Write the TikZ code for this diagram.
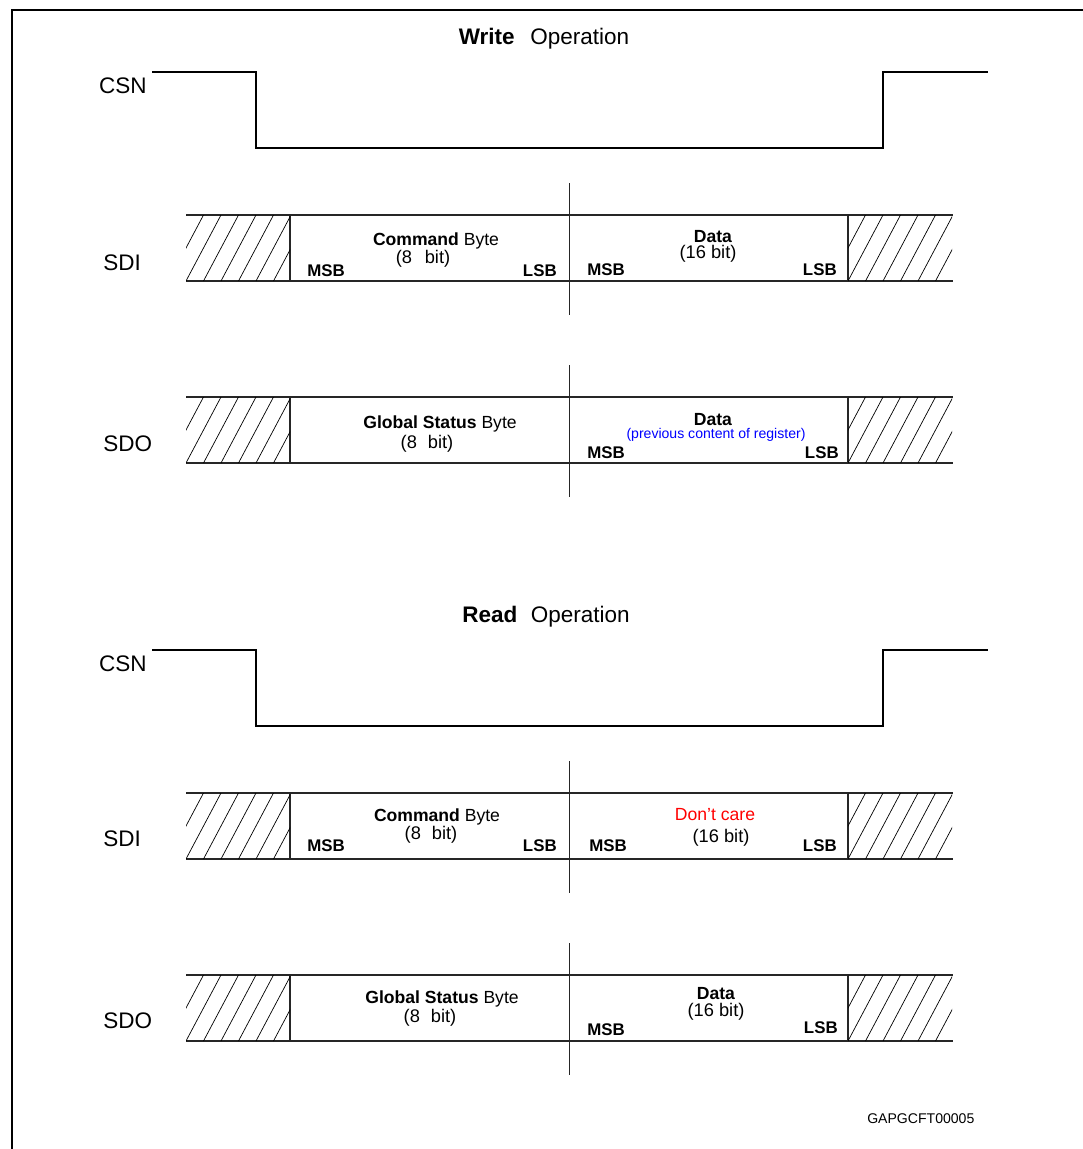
\documentclass[tikz,border=0pt]{standalone}
\usepackage{fontspec}
\setmainfont{Liberation Sans}
\usetikzlibrary{calc, positioning}

% diagonal hatching of one undefined field, x = left edge, y = top edge
\newcommand{\hatchfield}[2]{%
  \begin{scope}
    \clip (#1,#2) rectangle ++(104,66);
    \foreach \i in {-2,...,6}
      \draw[hatchline] ({#1+\i*17.5},{#2+66}) -- ++(35,-66);
  \end{scope}}

\begin{document}
\begin{tikzpicture}[x=0.025cm,y=-0.025cm,
  wave/.style={line width=0.9pt,black},
  field/.style={line width=0.75pt,black!85},
  hatchline/.style={line width=0.5pt,black},
  split/.style={line width=0.75pt,black!85},
  optitle/.style={font=\fontsize{16}{19}\selectfont,inner sep=0pt,anchor=base},
  signame/.style={font=\fontsize{16}{19}\selectfont,inner sep=0pt},
  fieldtxt/.style={font=\fontsize{12.5}{15}\selectfont,inner sep=0pt,anchor=base},
  bittxt/.style={font=\fontsize{13}{15}\selectfont,inner sep=0pt,anchor=base},
  edgebit/.style={font=\bfseries\fontsize{12}{14}\selectfont,inner sep=0pt}]
\useasboundingbox (0,0) rectangle (1083,1149);
\clip (0,0) rectangle (1083,1149);

% frame
\draw[line width=1.7pt] (12,1200) -- (12,10) -- (1120,10);

% same geometry for write and read part
\foreach \dy in {0,578} {
  % chip select
  \draw[wave] (152,72+\dy) -- (256,72+\dy) -- (256,148+\dy)
    -- (883,148+\dy) -- (883,72+\dy) -- (988,72+\dy);
  % SDI and SDO frames
  \foreach \top in {215,397} {
    \draw[field] (186,\top+\dy) -- (953,\top+\dy);
    \draw[field] (186,\top+66+\dy) -- (953,\top+66+\dy);
    \draw[field] (290,\top+\dy) -- (290,\top+66+\dy);
    \draw[field] (848,\top+\dy) -- (848,\top+66+\dy);
    \draw[split] (569.5,\top-32+\dy) -- (569.5,\top+100+\dy);
    \hatchfield{186}{\top+\dy}
    \hatchfield{848}{\top+\dy}
  }
}

% write operation
\node[optitle] (wtitle) at (544,45) {\textbf{Write}\hspace{0.7em}Operation};
\node[signame,anchor=base east] (wcsn) at (147,94) {CSN};
\node[signame,anchor=base west] (wsdi) at (103,270) {SDI};
\node[signame,anchor=base west] (wsdo) at (103,451) {SDO};

\node[fieldtxt] (wcmd) at (436,245) {\textbf{Command} Byte};
\node[bittxt] (wcmdbit) at (423,263) {(8\hspace{0.7em}bit)};
\node[edgebit,anchor=base west] (wcmdmsb) at (307,276) {MSB};
\node[edgebit,anchor=base east] (wcmdlsb) at (557,276) {LSB};
\node[fieldtxt] (wdata) at (713,242) {\textbf{Data}};
\node[bittxt] (wdatabit) at (708,258) {(16 bit)};
\node[edgebit,anchor=base west] (wdatamsb) at (587,275) {MSB};
\node[edgebit,anchor=base east] (wdatalsb) at (837,275) {LSB};

\node[fieldtxt] (wgsb) at (440,428) {\textbf{Global Status} Byte};
\node[bittxt] (wgsbbit) at (427,448) {(8\hspace{0.6em}bit)};
\node[fieldtxt] (wprev) at (713,425) {\textbf{Data}};
\node[fieldtxt,font=\fontsize{10}{12}\selectfont,text=blue] (wprevnote) at (716,438)
  {(previous content of register)};
\node[edgebit,anchor=base west] (wprevmsb) at (587,458) {MSB};
\node[edgebit,anchor=base east] (wprevlsb) at (839,458) {LSB};

% read operation
\node[optitle] (rtitle) at (546,622) {\textbf{Read}\hspace{0.6em}Operation};
\node[signame,anchor=base east] (rcsn) at (147,671) {CSN};
\node[signame,anchor=base west] (rsdi) at (103,846) {SDI};
\node[signame,anchor=base west] (rsdo) at (103,1028) {SDO};

\node[fieldtxt] (rcmd) at (437,821) {\textbf{Command} Byte};
\node[bittxt] (rcmdbit) at (431,839) {(8\hspace{0.6em}bit)};
\node[edgebit,anchor=base west] (rcmdmsb) at (307,851) {MSB};
\node[edgebit,anchor=base east] (rcmdlsb) at (557,851) {LSB};
\node[fieldtxt,text=red] (rdont) at (715,820) {Don't care};
\node[bittxt] (rdontbit) at (721,842) {(16 bit)};
\node[edgebit,anchor=base west] (rdontmsb) at (589,851) {MSB};
\node[edgebit,anchor=base east] (rdontlsb) at (837,851) {LSB};

\node[fieldtxt] (rgsb) at (442,1003) {\textbf{Global Status} Byte};
\node[bittxt] (rgsbbit) at (430,1022) {(8\hspace{0.6em}bit)};
\node[fieldtxt] (rdata) at (716,999) {\textbf{Data}};
\node[bittxt] (rdatabit) at (716,1016) {(16 bit)};
\node[edgebit,anchor=base west] (rdatamsb) at (587,1035) {MSB};
\node[edgebit,anchor=base east] (rdatalsb) at (838,1033) {LSB};

\node[font=\fontsize{10}{12}\selectfont,inner sep=0pt,anchor=base west] (figid)
  at (867,1123) {GAPGCFT00005};
\end{tikzpicture}
\end{document}
